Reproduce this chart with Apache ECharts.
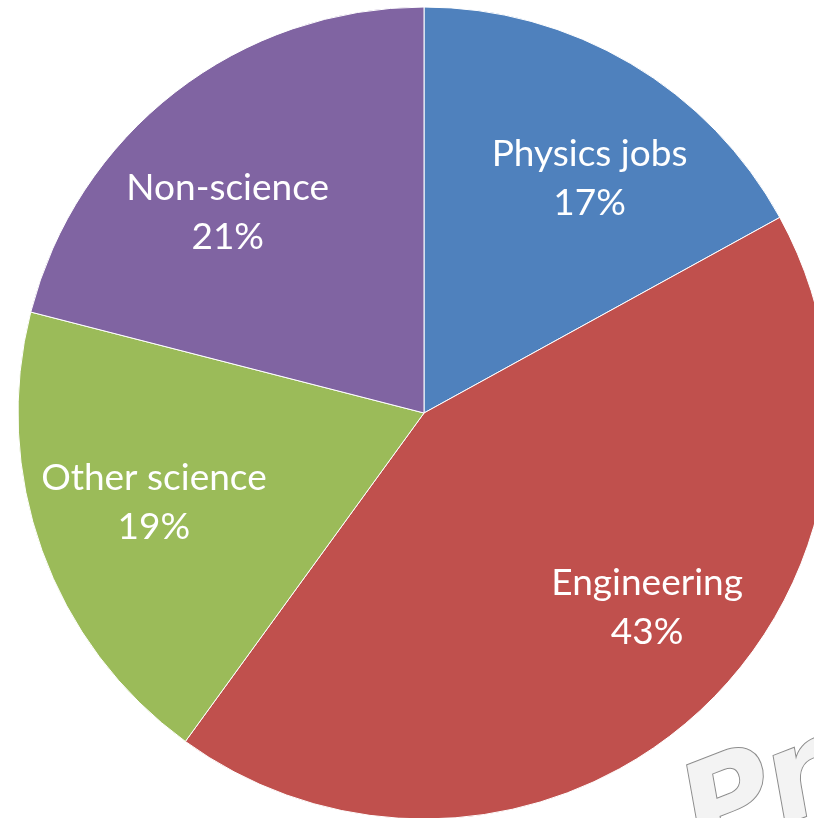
<!DOCTYPE html>
<html>
<head>
<meta charset="utf-8">
<script src="https://cdn.jsdelivr.net/npm/echarts@6/dist/echarts.min.js"></script>
<style>
  html, body { margin: 0; padding: 0; background: #fff; }
  #main { width: 814px; height: 818px; }
</style>
</head>
<body>
<div id="main"></div>
<script>
// slice names and shares (percent)
var categories = ['Physics jobs', 'Engineering', 'Other science', 'Non-science'];
var shares = [17, 43, 19, 21];
var colors = ['#4F81BD', '#C0504D', '#9BBB59', '#8064A2'];

// small nudges so labels sit where Excel put them
var labelNudge = [[20, 12], [34, -20], [-1, -7], [-21, 26]];

var chart = echarts.init(document.getElementById('main'));

var pieData = categories.map(function (name, i) {
  return { name: name, value: shares[i], itemStyle: { color: colors[i] } };
});

var labelData = categories.map(function (name, i) {
  return { name: name, value: shares[i], label: { offset: labelNudge[i] } };
});

var option = {
  animation: false,
  series: [
    {
      type: 'pie',
      center: [424, 413],
      radius: [0, 406],
      startAngle: 90,
      clockwise: true,
      silent: true,
      itemStyle: { borderColor: '#fff', borderWidth: 1 },
      label: { show: false },
      labelLine: { show: false },
      data: pieData
    },
    {
      // transparent ring just for the labels
      type: 'pie',
      center: [424, 413],
      radius: [160, 406],
      startAngle: 90,
      clockwise: true,
      silent: true,
      itemStyle: { color: 'rgba(0,0,0,0)' },
      label: {
        show: true,
        position: 'inside',
        color: '#fff',
        fontFamily: 'Lato',
        fontSize: 37,
        lineHeight: 49,
        formatter: function (p) { return p.name + '\n' + p.value + '%'; }
      },
      labelLine: { show: false },
      data: labelData
    }
  ],
  graphic: [
    {
      // watermark in the corner
      type: 'text',
      x: 667,
      y: 769,
      rotation: 0.37,
      silent: true,
      style: {
        text: 'Preview',
        font: 'italic bold 124px "DejaVu Sans"',
        fill: '#f3f3f3',
        stroke: '#8c8c8c',
        lineWidth: 2,
        shadowColor: 'rgba(0,0,0,0.4)',
        shadowBlur: 3,
        textVerticalAlign: 'top'
      }
    }
  ]
};

chart.setOption(option);
</script>
</body>
</html>
